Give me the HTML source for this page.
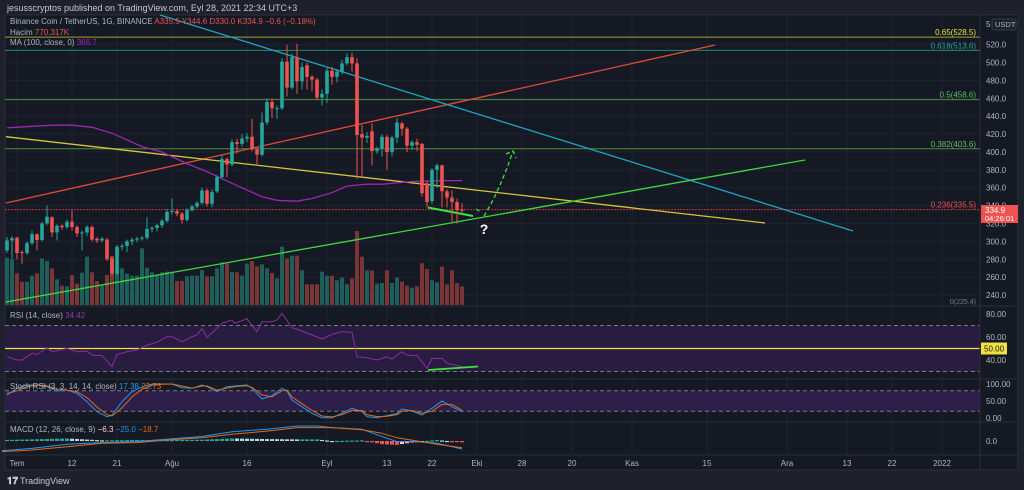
<!DOCTYPE html>
<html><head><meta charset="utf-8">
<style>
html,body{margin:0;padding:0;background:#1e212b;width:1024px;height:490px;overflow:hidden;font-family:"Liberation Sans",sans-serif;}
svg{display:block}
text{font-family:"Liberation Sans","DejaVu Sans",sans-serif;}
</style></head>
<body>
<svg id="chart" width="1024" height="490" xmlns="http://www.w3.org/2000/svg">
<rect x="0" y="0" width="1024" height="490" fill="#1e212b"/>
<text x="7" y="11" font-size="9" fill="#c8cad1">jesusscryptos published on TradingView.com, Eyl 28, 2021 22:34 UTC+3</text>
<rect x="5" y="15" width="1013" height="455" fill="#151924" stroke="#2a2e39"/>
<g id="grid"></g>
<g id="main"></g>
<g id="ind"></g>
<g id="axes"></g>
<text x="10" y="24" font-size="8" fill="#b2b5be">Binance Coin / TetherUS, 1G, BINANCE <tspan fill="#ef5350">A335.5 Y344.6 D330.0 K334.9 −0.6 (−0.18%)</tspan></text>
<text x="10" y="35" font-size="8" fill="#b2b5be">Hacim <tspan fill="#ef5350">770.317K</tspan></text>
<text x="10" y="45" font-size="8" fill="#b2b5be">MA (100, close, 0) <tspan fill="#9c27b0">366.7</tspan></text>
<text x="10" y="318" font-size="8" fill="#b2b5be">RSI (14, close) <tspan fill="#8e3ba8">34.42</tspan></text>
<text x="10" y="389" font-size="8" fill="#b2b5be">Stoch RSI (3, 3, 14, 14, close) <tspan fill="#2196f3">17.38</tspan> <tspan fill="#e06a1b">22.73</tspan></text>
<text x="10" y="432" font-size="8" fill="#b2b5be">MACD (12, 26, close, 9) <tspan fill="#ffcdd2">−6.3</tspan> <tspan fill="#2196f3">−25.0</tspan> <tspan fill="#e06a1b">−18.7</tspan></text>
<g><text x="7" y="484" font-size="10" font-weight="bold" fill="#d1d4dc">𝟏𝟕</text><text x="20" y="484" font-size="9" fill="#c8cad1">TradingView</text></g>
</svg>
<script>
// ---- data ----
const opens=[290,301,304,288,287,298,308,301.5,320,327,310,317.5,316,322,316,310,310,316,303,301,302,281,264,294,295,300,302,303,304,314,315,318,323,333,334,331,324,335,339,343,357,342,356,372,392,386,411,409,415,417,403,397,433,456,449,449,501,472,506,479,497,484,481,461,465,491,484,490,499,506,499,420,416,423,401,404,417,400,416,432,426,407,411,409,365,345,380,385,356,349,344,335.5];
const closes=[301,303.5,287,287,298,308,301.5,320,327.6,310,317.5,316,322,316,309,310,316,302,301,303,280,264,294,295,300,302,303,304,314,315,318,323,333,334,331,324,335,339,343,357,342,355,372,392,386,411,409,415,417,403,397,433,456,449,449,501,472,506,479,495,484,481,461,465,491,484,490,499,506,499,419,416,418,401,404,417,400,416,433,426,407,411,408,354,344,380,385,356,349,344,335,334.9];
const highs=[305,306,305,290,300,312,309,322,340,328,319,319,324,335,318,312,318,318,305,305,304,283,296,297,302,304,305,306,327,317,320,325,336,348,336,333,337,341,345,360,359,358,374,396,394,414,415,420,421,437,405,444,460,460,452,505,520,510,521,500,500,486,483,470,494,495,493,503,510,511,505,430,422,432,406,420,419,418,438,434,428,413,415,410,368,382,387,386,358,357,348,343];
const lows=[287,281,280,275,285,296,290,300,318,305,301,313,314,312,305,290,306,300,298,299,278,262,262,290,288,296,299,301,302,310,311,315,321,330,328,320,322,333,337,341,339,338,354,370,372,384,398,406,411,401,385,395,430,438,437,447,462,470,465,470,470,468,458,452,455,475,478,487,497,490,370,372,410,385,398,395,380,395,410,418,400,402,401,350,338,342,360,338,338,322,320,330];
const volumes=[142,138,95,70,70,88,95,140,132,110,77,58,56,90,64,97,145,98,72,58,90,148,108,110,94,88,88,170,112,98,88,98,100,100,72,72,86,88,88,105,86,86,110,128,124,100,98,88,124,132,116,122,110,96,80,175,140,148,148,104,62,62,62,100,88,88,74,82,62,80,222,145,104,104,64,66,104,66,82,70,58,52,56,125,108,74,68,115,62,104,66,56];
const maIdx=[0,9,13,17,21,27,31,36,40,45,51,54,58,61,65,68,72,75,81,87,91];
const maVal=[427,430,430,427.6,421,406,400,387,378,365,350,346,345,348,354.5,362,364,364,367,368,368];
const rsiIdx=[0,2,3,5,6,8,9,12,14,16,17,19,21,22,24,26,28,30,32,33,35,37,38,39,40,43,45,45.5,48,50,51,53,54,55,57,58,61,63,65,67,69,70,72,74,76,77,79,80,82,84,85,87,88,91];
const rsiVal=[42.9,40,40,45.8,44.9,50.7,47.2,50.1,47.2,47.8,44.3,43.8,34.2,44.9,47.2,48.7,53,55.4,60.3,60.3,55.9,60.3,61.7,67.5,59.4,71.9,74.8,71.9,75.7,64.6,73.3,73.3,74.8,80.6,68.1,66.9,61.7,58.3,62.3,64.6,64.1,42.9,42,40,42.9,40.9,47.2,44.3,43.8,32.8,41.4,41.4,37.1,34.2];
const stIdx=[0,2,4,6,8,10,12,14,16,18,20,21,23,25,27,29,31,33,35,37,39,40,42,44,46,48,49,51,53,55,56,57,59,61,63,65,67,69,71,72,74,76,78,79,81,83,85,87,89,91];
const stochK=[67.6,87.3,97,97,92.2,79.4,82.4,72.5,48,18.6,3.9,8.8,48,77.5,92.2,99,100,100,89.2,87.3,97,92.2,77.5,92.2,95,97,87.3,55.9,65.7,87.3,79.4,52.9,33.3,13.7,1,1,13.7,28.4,18.6,3.9,1,6.9,13.7,26.5,20.6,8.8,28.4,50,33.3,18.6];
const stochD=[72,80,92,97,95,85,82,77,60,32,10,6,30,62,85,96,99,100,94,88,94,94,82,88,93,95,90,68,62,80,82,62,42,22,6,3,10,22,22,10,4,5,10,20,22,14,20,40,40,22.7];
const macdIdx=[-1,5,12,19,26,32,39,45,52,58,62,65,71,75,78,82,86,91];
const macdLine=[-30,-23,-10,-5,-2,6,14,29,37,47,47,42,37,14,-2,-2,-7,-25];
const signalLine=[-33,-28,-18,-7,-5,3,10,21,31,42,42,42,35,24,10,0,-10,-21];
const priceTicks=[520,500,480,460,440,420,400,380,360,340,320,300,280,260,240];
const timeLabels=["Tem","12","21","Ağu","16","Eyl","13","22","Eki","28","20","Kas","15","Ara","13","22","2022"];
const timeDays=[3,14,23,34,49,65,77,86,95,104,114,126,141,157,169,178,188];
const fibLevels=[0.65,0.618,0.5,0.382,0.236];
const fibPrices=[528.5,513.6,458.6,403.6,335.5];

// ---- scales ----
const NS="http://www.w3.org/2000/svg";
const X=i=>7+5*i;
const XD=d=>5*d+2;
const PY=p=>44.7+(520-p)*0.894;
const RY=v=>314+(80-v)*1.15;
const SY=v=>418-v*0.34;
const MY=v=>441-v*0.32;
function el(tag,attrs,parent){const e=document.createElementNS(NS,tag);for(const k in attrs)e.setAttribute(k,attrs[k]);parent.appendChild(e);return e;}
function interp(idx,val,i){if(i<=idx[0])return val[0];for(let k=1;k<idx.length;k++){if(i<=idx[k]){const t=(i-idx[k-1])/(idx[k]-idx[k-1]);return val[k-1]+t*(val[k]-val[k-1]);}}return val[val.length-1];}
function pathOf(idx,val,Y){return idx.map((d,k)=>(k?"L":"M")+X(d).toFixed(1)+","+Y(val[k]).toFixed(1)).join(" ");}
const grid=document.getElementById('grid'),main=document.getElementById('main'),ind=document.getElementById('ind'),axes=document.getElementById('axes');

// grid
timeDays.forEach((d,k)=>{const x=XD(d);
  const g=el('line',{x1:x,x2:x,y1:15,y2:455,stroke:'#1f2330','stroke-width':1},grid);
  
  const t=el('text',{x:x,y:466,'font-size':8,fill:'#b2b5be','text-anchor':'middle'},axes);t.textContent=timeLabels[k];
  });
priceTicks.forEach(p=>{const y=PY(p);
  const g=el('line',{x1:5,x2:980,y1:y,y2:y,stroke:'#1f2330','stroke-width':1},grid);
  
  const t=el('text',{x:986,y:y+3,'font-size':8,fill:'#b2b5be'},axes);t.textContent=p.toFixed(1);
  });

// pane separators and right axis
[306,379,422,455].forEach(y=>{const l=el('line',{x1:5,x2:1018,y1:y,y2:y,stroke:'#2a2e39','stroke-width':1},axes);
  });
const ax=el('line',{x1:980,x2:980,y1:15,y2:470,stroke:'#2a2e39'},axes);


// volumes
volumes.forEach((v,i)=>{const up=closes[i]>=opens[i];const h=v/3;
  const r=el('rect',{x:X(i)-2,y:305-h,width:4,height:h,fill:up?'#1f5e59':'#7a3537'},main);
  });

// fib lines
const fibColors=['#a0a031','#1f8a7a','#4c8c3d','#4c8c3d','#c0393c'];
fibPrices.forEach((p,k)=>{const y=PY(p);
  const l=el('line',{x1:5,x2:980,y1:y,y2:y,stroke:fibColors[k],'stroke-width':1,'stroke-dasharray':k==4?'2,1':''},main);
  
  const t=el('text',{x:976,y:y-2,'font-size':8,fill:k==0?'#e8e040':(k==1?'#26a69a':(k==4?'#ef5350':'#66bb6a')),'text-anchor':'end'},main);
  t.textContent=fibLevels[k]+'('+p+')';});
const f0=el('text',{x:976,y:304,'font-size':7,fill:'#787b86','text-anchor':'end'},main);f0.textContent='0(225.4)';


// trend lines
[[6,203,715,45,'#e5493a','red-trendline'],[160,15,853,231,'#1ba5c0','cyan-trendline'],[6,136.7,765,223,'#d8c43a','yellow-trendline'],[6,302,805,160,'#3fd93f','green-support-trendline'],[428,207.5,473,216,'#3ee53e','short-green-line']].forEach(a=>{
  const l=el('line',{x1:a[0],y1:a[1],x2:a[2],y2:a[3],stroke:a[4],'stroke-width':a[5]=='short-green-line'?2:1.3},main);
  });

// MA
const ma=el('path',{d:pathOf(maIdx,maVal,PY),fill:'none',stroke:'#9c27b0','stroke-width':1.3},main);


// candles
opens.forEach((o,i)=>{const c=closes[i];const up=c>=o;const col=up?'#26a69a':'#ef5350';
  const g=el('g',{},main);
  el('line',{x1:X(i),x2:X(i),y1:PY(highs[i]),y2:PY(lows[i]),stroke:col,'stroke-width':1},g);
  const top=PY(Math.max(o,c)),bot=PY(Math.min(o,c));
  el('rect',{x:X(i)-1.8,y:top,width:3.6,height:Math.max(1,bot-top),fill:col},g);});

// dashed arrow and question mark
const ar=el('path',{d:'M476,209 L481,212 M484,216 Q500,190 513,151 M506,154 L513,151 L516,158',fill:'none',stroke:'#3ee53e','stroke-width':1.3,'stroke-dasharray':'4,3'},main);

const q=el('text',{x:484,y:234,'font-size':14,'font-weight':'bold',fill:'#ffffff','text-anchor':'middle'},main);q.textContent='?';


// price label
const pl=el('g',{},axes);
el('rect',{x:981,y:205,width:37,height:18,fill:'#ef5350'},pl);
const t1=el('text',{x:985,y:213,'font-size':8,fill:'#fff'},pl);t1.textContent='334.9';
const t2=el('text',{x:985,y:221,'font-size':7.5,fill:'#fff'},pl);t2.textContent='04:26:01';
const us=el('g',{},axes);
const t5=el('text',{x:986,y:27,'font-size':8,fill:'#b2b5be'},us);t5.textContent='5';
el('rect',{x:992,y:19,width:24,height:11,rx:2,fill:'#1e222d',stroke:'#363a45'},us);
const tu=el('text',{x:995,y:27,'font-size':7.5,fill:'#b2b5be'},us);tu.textContent='USDT';

// RSI pane
el('rect',{x:5,y:RY(70),width:975,height:RY(30)-RY(70),fill:'#281d40'},ind);
[70,30].forEach(v=>{const l=el('line',{x1:5,x2:980,y1:RY(v),y2:RY(v),stroke:'#787b86','stroke-dasharray':'4,3'},ind);});
const y50=el('line',{x1:5,x2:980,y1:RY(50),y2:RY(50),stroke:'#f0e040','stroke-width':1.3},ind);
const rsi=el('path',{d:pathOf(rsiIdx,rsiVal,RY),fill:'none',stroke:'#8e2ca8','stroke-width':1},ind);
const rg=el('line',{x1:428,y1:370,x2:478,y2:366.5,stroke:'#3ee53e','stroke-width':1.8},ind);
[[80,'80.00'],[60,'60.00'],[40,'40.00']].forEach(a=>{const t=el('text',{x:986,y:RY(a[0])+3,'font-size':8,fill:'#b2b5be'},axes);t.textContent=a[1];});
const yb=el('g',{},axes);
el('rect',{x:981,y:RY(50)-6,width:26,height:12,fill:'#f0e040'},yb);const yt=el('text',{x:984,y:RY(50)+3,'font-size':8,fill:'#131722'},yb);yt.textContent='50.00';

// Stoch pane
el('rect',{x:5,y:SY(80),width:975,height:SY(20)-SY(80),fill:'#2d1f4a'},ind);
[80,20].forEach(v=>{const l=el('line',{x1:5,x2:980,y1:SY(v),y2:SY(v),stroke:'#787b86','stroke-dasharray':'4,3'},ind);});
const sk=el('path',{d:pathOf(stIdx,stochK,SY),fill:'none',stroke:'#2196f3','stroke-width':1},ind);
const sd=el('path',{d:pathOf(stIdx,stochD,SY),fill:'none',stroke:'#e06a1b','stroke-width':1},ind);
[[100,'100.00'],[50,'50.00'],[0,'0.00']].forEach(a=>{const t=el('text',{x:986,y:SY(a[0])+3,'font-size':8,fill:'#b2b5be'},axes);t.textContent=a[1];});

// MACD pane
let prev=null;
for(let i=0;i<opens.length;i++){const h=interp(macdIdx,macdLine,i)-interp(macdIdx,signalLine,i);
  const rising=prev===null||h>=prev;
  const col=h>=0?(rising?'#26a69a':'#b2dfdb'):(rising?'#ffcdd2':'#ef5350');
  const y1=MY(Math.max(h,0)),y2=MY(Math.min(h,0));
  const r=el('rect',{x:X(i)-2,y:y1,width:4,height:Math.max(1.2,y2-y1),fill:col},ind);
  prev=h;}
const ml=el('path',{d:pathOf(macdIdx,macdLine,MY),fill:'none',stroke:'#2196f3','stroke-width':1},ind);
const sl=el('path',{d:pathOf(macdIdx,signalLine,MY),fill:'none',stroke:'#e06a1b','stroke-width':1},ind);
const mz=el('text',{x:986,y:MY(0)+3,'font-size':8,fill:'#b2b5be'},axes);mz.textContent='0.0';
</script>
</body></html>
